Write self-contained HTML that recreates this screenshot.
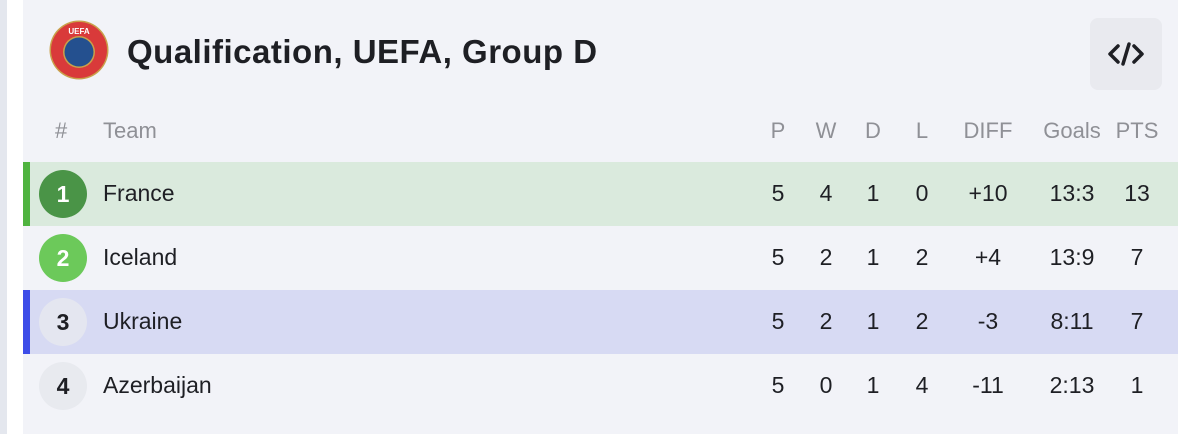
<!DOCTYPE html>
<html><head><meta charset="utf-8"><style>
body{margin:0;width:1180px;height:434px;background:#fff;font-family:"Liberation Sans",sans-serif;overflow:hidden;position:relative}
.strip{position:absolute;left:0;top:0;width:7px;height:434px;background:#e4e7ee}
.card{position:absolute;left:23px;top:0;width:1155px;height:434px;background:#f2f3f8}
.abs{position:absolute}
.title{left:127px;top:33px;font-size:33px;font-weight:bold;color:#1e1f24;letter-spacing:0.5px}
.btn{left:1090px;top:18px;width:72px;height:72px;background:#e9eaef;border-radius:8px}
.hdr{top:118px;font-size:22px;color:#8f9096}
.row{position:absolute;left:23px;width:1155px;height:64px}
.bar{position:absolute;left:0;top:0;width:7px;height:64px}
.circ{position:absolute;left:16px;top:8px;width:48px;height:48px;border-radius:50%;text-align:center;line-height:48px;font-size:23px;font-weight:bold}
.team{position:absolute;left:80px;top:18px;font-size:23px;color:#1e1f24}
.c{position:absolute;top:18px;font-size:23px;color:#1e1f24;text-align:center;width:60px}
</style></head><body>
<div class="strip"></div>
<div class="card"></div>
<svg class="abs" style="left:49px;top:20px" width="60" height="60"><circle cx="30" cy="30" r="29.5" fill="#c9a04a"/><circle cx="30" cy="30" r="28" fill="#d93a3a"/><circle cx="30" cy="32" r="16" fill="#c9a04a"/><circle cx="30" cy="32" r="14.5" fill="#24508f"/><text x="30" y="14" font-size="8" fill="#fff" text-anchor="middle" font-family="Liberation Sans" font-weight="bold">UEFA</text></svg>
<div class="abs title">Qualification, UEFA, Group D</div>
<div class="abs btn"><svg width="72" height="72"><path d="M28 28 L20 36 L28 44 M44 28 L52 36 L44 44 M39 26 L33 46" stroke="#1e1f24" stroke-width="3.5" fill="none" stroke-linecap="round" stroke-linejoin="round"/></svg></div>
<div class="abs hdr" style="left:55px">#</div>
<div class="abs hdr" style="left:103px">Team</div>
<div class="abs hdr" style="left:748px;width:60px;text-align:center">P</div>
<div class="abs hdr" style="left:796px;width:60px;text-align:center">W</div>
<div class="abs hdr" style="left:843px;width:60px;text-align:center">D</div>
<div class="abs hdr" style="left:892px;width:60px;text-align:center">L</div>
<div class="abs hdr" style="left:958px;width:60px;text-align:center">DIFF</div>
<div class="abs hdr" style="left:1042px;width:60px;text-align:center">Goals</div>
<div class="abs hdr" style="left:1107px;width:60px;text-align:center">PTS</div>

<div class="row" style="top:162px;background:#daeadd"><div class="bar" style="background:#4fb33f"></div><div class="circ" style="background:#4a9447;color:#fff">1</div><div class="team">France</div>
<div class="c" style="left:725px">5</div><div class="c" style="left:773px">4</div><div class="c" style="left:820px">1</div><div class="c" style="left:869px">0</div><div class="c" style="left:935px">+10</div><div class="c" style="left:1019px">13:3</div><div class="c" style="left:1084px">13</div></div>
<div class="row" style="top:226px"><div class="circ" style="background:#6cc95a;color:#fff">2</div><div class="team">Iceland</div>
<div class="c" style="left:725px">5</div><div class="c" style="left:773px">2</div><div class="c" style="left:820px">1</div><div class="c" style="left:869px">2</div><div class="c" style="left:935px">+4</div><div class="c" style="left:1019px">13:9</div><div class="c" style="left:1084px">7</div></div>
<div class="row" style="top:290px;background:#d7daf3"><div class="bar" style="background:#3d4de8"></div><div class="circ" style="background:#e4e6f0;color:#1e1f24">3</div><div class="team">Ukraine</div>
<div class="c" style="left:725px">5</div><div class="c" style="left:773px">2</div><div class="c" style="left:820px">1</div><div class="c" style="left:869px">2</div><div class="c" style="left:935px">-3</div><div class="c" style="left:1019px">8:11</div><div class="c" style="left:1084px">7</div></div>
<div class="row" style="top:354px"><div class="circ" style="background:#e8eaef;color:#1e1f24">4</div><div class="team">Azerbaijan</div>
<div class="c" style="left:725px">5</div><div class="c" style="left:773px">0</div><div class="c" style="left:820px">1</div><div class="c" style="left:869px">4</div><div class="c" style="left:935px">-11</div><div class="c" style="left:1019px">2:13</div><div class="c" style="left:1084px">1</div></div>
</body></html>
